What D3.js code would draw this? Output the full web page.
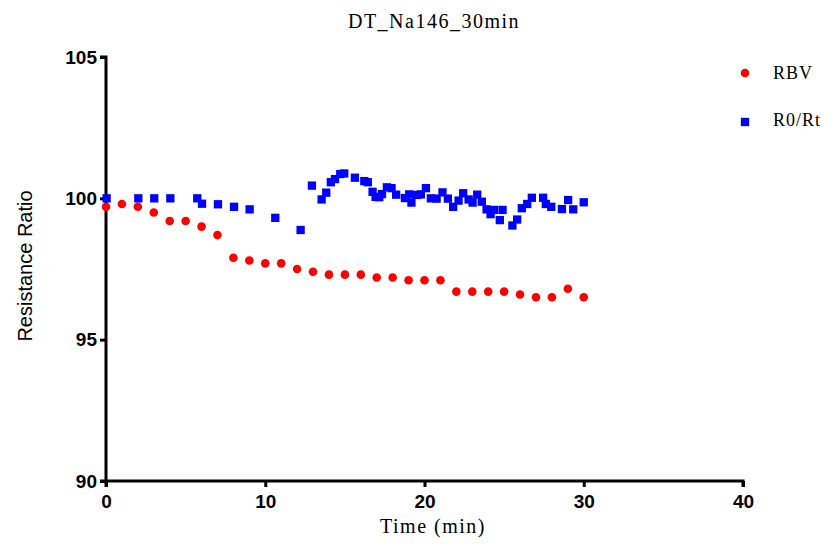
<!DOCTYPE html>
<html><head><meta charset="utf-8">
<script src="https://cdn.jsdelivr.net/npm/d3@7"></script>
<style>body{margin:0;background:#fff}svg{display:block}</style>
</head><body>
<script>
const title = "DT_Na146_30min";
const xTitle = "Time (min)";
const yTitle = "Resistance Ratio";
const xTicks = [0, 10, 20, 30, 40];
const yTicks = [90, 95, 100, 105];
const seriesNames = ["RBV", "R0/Rt"];

const rbvTime = [0,1,2,3,4,5,6,7,8,9,10,11,12,13,14,15,16,17,18,19,20,21,22,23,24,25,26,27,28,29,30];
const rbvValue = [99.7,99.8,99.7,99.5,99.2,99.2,99.0,98.7,97.9,97.8,97.7,97.7,97.5,97.4,97.3,97.3,97.3,97.2,97.2,97.1,97.1,97.1,96.7,96.7,96.7,96.7,96.6,96.5,96.5,96.8,96.5];

const rtTime = [0.04,2.03,3.03,4.04,5.73,6.03,7.03,8.04,9.02,10.63,12.22,12.93,13.54,13.83,14.12,14.38,14.71,14.96,15.63,16.22,16.44,16.74,16.93,17.16,17.33,17.64,17.93,18.22,18.77,19.04,19.18,19.54,19.77,20.09,20.4,20.76,21.13,21.47,21.8,22.14,22.43,22.77,23.02,23.31,23.6,23.9,24.15,24.36,24.73,24.9,25.52,25.82,26.11,26.45,26.74,27.45,27.62,27.96,28.63,29.02,29.34,30.0];
const rtValue = [100.0,100.0,100.0,100.0,100.0,99.81,99.79,99.7,99.61,99.31,98.88,100.45,99.96,100.2,100.57,100.68,100.86,100.88,100.73,100.61,100.57,100.23,100.05,100.04,100.15,100.39,100.36,100.13,100.01,100.14,99.85,100.12,100.14,100.36,100.0,99.99,100.21,99.99,99.7,99.92,100.18,99.96,99.85,100.13,99.88,99.61,99.44,99.59,99.23,99.59,99.04,99.25,99.65,99.8,100.02,100.02,99.8,99.7,99.62,99.94,99.61,99.86];

const W = 830, H = 545;
const svg = d3.select("body").append("svg").attr("width", W).attr("height", H);

const x = d3.scaleLinear().domain([0, 40]).range([106, 743]);
const y = d3.scaleLinear().domain([90, 105]).range([481, 57]);

const serif = "Liberation Serif, serif";
const sans = "Liberation Sans, Arial, sans-serif";

// title
svg.append("text").attr("x", 434).attr("y", 28).attr("text-anchor", "middle")
  .style("font-family", serif).style("font-size", "20px").style("letter-spacing", "1.5px").text(title);

// axes
const yAxis = d3.axisLeft(y).tickValues(yTicks).tickSize(6).tickPadding(3).tickFormat(d3.format("d"));
const xAxis = d3.axisBottom(x).tickValues(xTicks).tickSize(6).tickPadding(8).tickFormat(d3.format("d"));

const gy = svg.append("g").attr("transform", "translate(106,0)").call(yAxis);
const gx = svg.append("g").attr("transform", "translate(0,481)").call(xAxis);
[gx, gy].forEach(g => {
  g.select(".domain").attr("stroke", "#000").attr("stroke-width", 3);
  g.selectAll(".tick line").attr("stroke", "#000").attr("stroke-width", 3);
  g.selectAll(".tick text").attr("fill", "#000")
    .style("font-family", sans).style("font-size", "19px").style("font-weight", "bold");
});
gy.select(".domain").attr("d", `M-6,${y(105)}H0V${y(90)}H-6`);
gx.select(".domain").attr("d", `M${x(0)},6V0H${x(40)}V6`);

// axis titles
svg.append("text").attr("transform", "translate(32,266) rotate(-90)").attr("text-anchor", "middle")
  .style("font-family", sans).style("font-size", "20px").text(yTitle);
svg.append("text").attr("x", 433).attr("y", 533).attr("text-anchor", "middle")
  .style("font-family", serif).style("font-size", "20px").style("letter-spacing", "1.5px").text(xTitle);

// data
const rbv = rbvTime.map((t, i) => ({t, v: rbvValue[i]}));
const rt = rtTime.map((t, i) => ({t, v: rtValue[i]}));

svg.append("g").selectAll("circle").data(rbv).join("circle")
  .attr("cx", d => x(d.t)).attr("cy", d => y(d.v)).attr("r", 4.3).attr("fill", "#ff0000");

const s = 8.3;
svg.append("g").selectAll("rect").data(rt).join("rect")
  .attr("x", d => x(d.t) - s/2).attr("y", d => y(d.v) - s/2).attr("width", s).attr("height", s).attr("fill", "#0000ff");

// legend
const leg = svg.append("g");
leg.append("circle").attr("cx", 745).attr("cy", 73).attr("r", 4.3).attr("fill", "#ff0000");
leg.append("rect").attr("x", 745 - s/2).attr("y", 122 - s/2).attr("width", s).attr("height", s).attr("fill", "#0000ff");
leg.selectAll("text").data(seriesNames).join("text")
  .attr("x", 773).attr("y", (d, i) => 79 + i * 47)
  .style("font-family", serif).style("font-size", "18px").style("letter-spacing", "1px").text(d => d);
</script>
</body></html>
